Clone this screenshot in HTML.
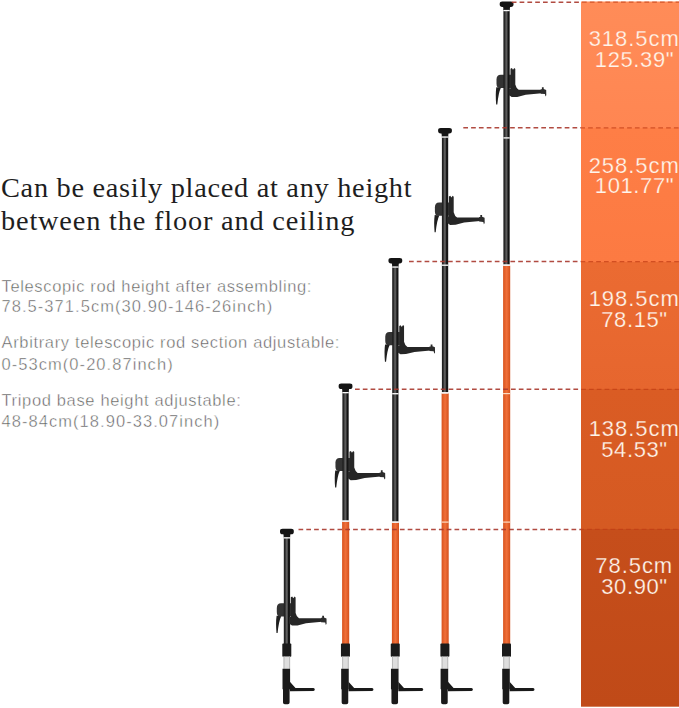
<!DOCTYPE html>
<html><head><meta charset="utf-8"><style>
html,body{margin:0;padding:0;background:#fff;width:679px;height:708px;overflow:hidden}
svg{position:absolute;left:0;top:0}
.h{font-family:"Liberation Serif",serif;font-size:26.5px;fill:#1e1e1e;letter-spacing:1.55px}
.ta{font-family:"Liberation Sans",sans-serif;font-size:16.5px;fill:#5c5c5c;letter-spacing:0.65px;stroke:#fff;stroke-width:0.45px}
.tn{font-family:"Liberation Sans",sans-serif;font-size:16.5px;fill:#5c5c5c;letter-spacing:1.05px;stroke:#fff;stroke-width:0.45px}
.lab{font-family:"Liberation Sans",sans-serif;font-size:22px;fill:#fff6ec;letter-spacing:0.6px;text-anchor:middle;stroke-width:0.25px}
</style></head><body>
<svg width="679" height="708" viewBox="0 0 679 708">
<defs><clipPath id="cb"><rect x="581" y="0" width="98" height="708"/></clipPath><linearGradient id="rg" x1="0" y1="0" x2="1" y2="0"><stop offset="0" stop-color="#1c1c1c"/><stop offset="0.2" stop-color="#2a2a2a"/><stop offset="0.45" stop-color="#646464"/><stop offset="0.6" stop-color="#4a4a4a"/><stop offset="0.75" stop-color="#121212"/><stop offset="1" stop-color="#1c1c1c"/></linearGradient><linearGradient id="og" x1="0" y1="0" x2="1" y2="0"><stop offset="0" stop-color="#d8531e"/><stop offset="0.5" stop-color="#f0703a"/><stop offset="1" stop-color="#d4501c"/></linearGradient><linearGradient id="g0" x1="0" y1="0" x2="0" y2="1"><stop offset="0" stop-color="#ff8c58"/><stop offset="1" stop-color="#ff8652"/></linearGradient><linearGradient id="g1" x1="0" y1="0" x2="0" y2="1"><stop offset="0" stop-color="#fe7e46"/><stop offset="1" stop-color="#fc7a42"/></linearGradient><linearGradient id="g2" x1="0" y1="0" x2="0" y2="1"><stop offset="0" stop-color="#eb6b32"/><stop offset="1" stop-color="#e6662e"/></linearGradient><linearGradient id="g3" x1="0" y1="0" x2="0" y2="1"><stop offset="0" stop-color="#da5c24"/><stop offset="1" stop-color="#d55a22"/></linearGradient><linearGradient id="g4" x1="0" y1="0" x2="0" y2="1"><stop offset="0" stop-color="#c64e1b"/><stop offset="1" stop-color="#c04a18"/></linearGradient></defs>
<rect x="581" y="1.5" width="98" height="126.5" fill="url(#g0)"/>
<rect x="581" y="128" width="98" height="134.0" fill="url(#g1)"/>
<rect x="581" y="262" width="98" height="127.0" fill="url(#g2)"/>
<rect x="581" y="389" width="98" height="140.0" fill="url(#g3)"/>
<rect x="581" y="529" width="98" height="177.7" fill="url(#g4)"/>
<path d="M276.80,608.00 Q276.80,603.30 281.00,603.30 L291.40,603.30 L291.40,616.50 L280.00,616.50 Q276.80,616.50 276.80,612.00 Z" fill="#333333"/>
<rect x="283.4" y="646.2" width="7.1" height="-1.2" fill="url(#og)"/>
<rect x="283.8" y="536.5" width="6.3" height="108.5" fill="url(#rg)"/>
<rect x="280.00" y="528.70" width="13.8" height="5.6" rx="2.6" ry="2.4" fill="#141414"/>
<path d="M283.30,533.50 L290.50,533.50 L290.00,537.20 L283.80,537.20 Z" fill="#161616"/>
<rect x="283.8" y="537.2" width="6.3" height="1.3" fill="#fafafa"/>
<path d="M290.80,617.00 L290.80,597.20 L292.20,596.50 L293.30,598.20 L294.60,596.40 L295.60,597.40 L295.60,613.00 Q296.60,617.00 299.00,618.30 L322.00,618.30 L322.00,621.80 L306.00,623.30 L297.50,625.40 L292.00,625.60 L289.00,623.50 L289.00,617.00 Z" fill="#262626"/>
<path d="M321.00,617.80 L322.20,617.80 L322.20,615.70 L324.00,615.70 L324.00,617.50 L326.50,618.50 L326.60,623.80 L325.80,625.00 L325.20,622.60 L321.00,622.30 Z" fill="#2c2c2c"/>
<path d="M276.60,615.80 L281.20,616.20 Q278.80,621.00 277.60,633.00 L276.50,633.00 Q275.60,623.00 276.60,615.80 Z" fill="#1e1e1e"/>
<rect x="282.30" y="643.6" width="9.0" height="13.1" rx="0.8" fill="#1b1b1b"/>
<rect x="283.50" y="656.6" width="6.6" height="12.2" fill="#dedede"/>
<rect x="283.50" y="656.6" width="1.0" height="12.2" fill="#b8b8b8"/>
<rect x="289.10" y="656.6" width="1.0" height="12.2" fill="#b8b8b8"/>
<path d="M282.50,668.7 L290.10,668.7 L290.10,689 L289.60,689.5 L289.60,702.5 Q289.60,704.3 287.80,704.3 L284.80,704.3 Q283.00,704.3 283.00,702.5 L283.00,689.5 L282.50,689 Z" fill="#1a1a1a"/>
<path d="M289.90,681.8 L295.50,688 L313.40,688 Q314.80,688.3 314.80,689.6 Q314.80,690.9 313.40,691.1 L289.90,691.3 Z" fill="#1a1a1a"/>
<path d="M335.45,462.60 Q335.45,457.90 339.65,457.90 L350.05,457.90 L350.05,471.10 L338.65,471.10 Q335.45,471.10 335.45,466.60 Z" fill="#333333"/>
<rect x="342.1" y="521.7" width="7.1" height="123.3" fill="url(#og)"/>
<rect x="342.4" y="391.3" width="6.3" height="129.2" fill="url(#rg)"/>
<rect x="342.4" y="520.5" width="6.3" height="1.4" fill="#f2f2f2"/>
<rect x="338.65" y="383.50" width="13.8" height="5.6" rx="2.6" ry="2.4" fill="#141414"/>
<path d="M341.95,388.30 L349.15,388.30 L348.65,392.00 L342.45,392.00 Z" fill="#161616"/>
<rect x="342.4" y="392.0" width="6.3" height="1.3" fill="#fafafa"/>
<path d="M349.45,471.60 L349.45,451.80 L350.85,451.10 L351.95,452.80 L353.25,451.00 L354.25,452.00 L354.25,467.60 Q355.25,471.60 357.65,472.90 L380.65,472.90 L380.65,476.40 L364.65,477.90 L356.15,480.00 L350.65,480.20 L347.65,478.10 L347.65,471.60 Z" fill="#262626"/>
<path d="M379.65,472.40 L380.85,472.40 L380.85,470.30 L382.65,470.30 L382.65,472.10 L385.15,473.10 L385.25,478.40 L384.45,479.60 L383.85,477.20 L379.65,476.90 Z" fill="#2c2c2c"/>
<path d="M335.25,470.40 L339.85,470.80 Q337.45,475.60 336.25,487.60 L335.15,487.60 Q334.25,477.60 335.25,470.40 Z" fill="#1e1e1e"/>
<rect x="340.95" y="643.6" width="9.0" height="13.1" rx="0.8" fill="#1b1b1b"/>
<rect x="342.15" y="656.6" width="6.6" height="12.2" fill="#dedede"/>
<rect x="342.15" y="656.6" width="1.0" height="12.2" fill="#b8b8b8"/>
<rect x="347.75" y="656.6" width="1.0" height="12.2" fill="#b8b8b8"/>
<path d="M341.15,668.7 L348.75,668.7 L348.75,689 L348.25,689.5 L348.25,702.5 Q348.25,704.3 346.45,704.3 L343.45,704.3 Q341.65,704.3 341.65,702.5 L341.65,689.5 L341.15,689 Z" fill="#1a1a1a"/>
<path d="M348.55,681.8 L354.15,688 L372.05,688 Q373.45,688.3 373.45,689.6 Q373.45,690.9 372.05,691.1 L348.55,691.3 Z" fill="#1a1a1a"/>
<path d="M385.25,336.70 Q385.25,332.00 389.45,332.00 L399.85,332.00 L399.85,345.20 L388.45,345.20 Q385.25,345.20 385.25,340.70 Z" fill="#333333"/>
<rect x="391.9" y="522.7" width="7.1" height="122.3" fill="url(#og)"/>
<rect x="392.2" y="265.7" width="6.3" height="255.8" fill="url(#rg)"/>
<rect x="392.2" y="393.0" width="6.3" height="1.4" fill="#f2f2f2"/>
<rect x="392.2" y="521.5" width="6.3" height="1.4" fill="#f2f2f2"/>
<rect x="388.45" y="257.90" width="13.8" height="5.6" rx="2.6" ry="2.4" fill="#141414"/>
<path d="M391.75,262.70 L398.95,262.70 L398.45,266.40 L392.25,266.40 Z" fill="#161616"/>
<rect x="392.2" y="266.4" width="6.3" height="1.3" fill="#fafafa"/>
<path d="M399.25,345.70 L399.25,325.90 L400.65,325.20 L401.75,326.90 L403.05,325.10 L404.05,326.10 L404.05,341.70 Q405.05,345.70 407.45,347.00 L430.45,347.00 L430.45,350.50 L414.45,352.00 L405.95,354.10 L400.45,354.30 L397.45,352.20 L397.45,345.70 Z" fill="#262626"/>
<path d="M429.45,346.50 L430.65,346.50 L430.65,344.40 L432.45,344.40 L432.45,346.20 L434.95,347.20 L435.05,352.50 L434.25,353.70 L433.65,351.30 L429.45,351.00 Z" fill="#2c2c2c"/>
<path d="M385.05,344.50 L389.65,344.90 Q387.25,349.70 386.05,361.70 L384.95,361.70 Q384.05,351.70 385.05,344.50 Z" fill="#1e1e1e"/>
<rect x="390.75" y="643.6" width="9.0" height="13.1" rx="0.8" fill="#1b1b1b"/>
<rect x="391.95" y="656.6" width="6.6" height="12.2" fill="#dedede"/>
<rect x="391.95" y="656.6" width="1.0" height="12.2" fill="#b8b8b8"/>
<rect x="397.55" y="656.6" width="1.0" height="12.2" fill="#b8b8b8"/>
<path d="M390.95,668.7 L398.55,668.7 L398.55,689 L398.05,689.5 L398.05,702.5 Q398.05,704.3 396.25,704.3 L393.25,704.3 Q391.45,704.3 391.45,702.5 L391.45,689.5 L390.95,689 Z" fill="#1a1a1a"/>
<path d="M398.35,681.8 L403.95,688 L421.85,688 Q423.25,688.3 423.25,689.6 Q423.25,690.9 421.85,691.1 L398.35,691.3 Z" fill="#1a1a1a"/>
<path d="M434.90,207.30 Q434.90,202.60 439.10,202.60 L449.50,202.60 L449.50,215.80 L438.10,215.80 Q434.90,215.80 434.90,211.30 Z" fill="#333333"/>
<rect x="441.6" y="393.4" width="7.1" height="251.6" fill="url(#og)"/>
<rect x="441.9" y="135.7" width="6.3" height="256.5" fill="url(#rg)"/>
<rect x="441.9" y="264.5" width="6.3" height="1.4" fill="#f2f2f2"/>
<rect x="441.9" y="392.2" width="6.3" height="1.4" fill="#f2f2f2"/>
<rect x="441.6" y="521.5" width="7.1" height="1.2" fill="#fbdcc4"/>
<rect x="438.10" y="127.90" width="13.8" height="5.6" rx="2.6" ry="2.4" fill="#141414"/>
<path d="M441.40,132.70 L448.60,132.70 L448.10,136.40 L441.90,136.40 Z" fill="#161616"/>
<rect x="441.9" y="136.4" width="6.3" height="1.3" fill="#fafafa"/>
<path d="M448.90,216.30 L448.90,196.50 L450.30,195.80 L451.40,197.50 L452.70,195.70 L453.70,196.70 L453.70,212.30 Q454.70,216.30 457.10,217.60 L480.10,217.60 L480.10,221.10 L464.10,222.60 L455.60,224.70 L450.10,224.90 L447.10,222.80 L447.10,216.30 Z" fill="#262626"/>
<path d="M479.10,217.10 L480.30,217.10 L480.30,215.00 L482.10,215.00 L482.10,216.80 L484.60,217.80 L484.70,223.10 L483.90,224.30 L483.30,221.90 L479.10,221.60 Z" fill="#2c2c2c"/>
<path d="M434.70,215.10 L439.30,215.50 Q436.90,220.30 435.70,232.30 L434.60,232.30 Q433.70,222.30 434.70,215.10 Z" fill="#1e1e1e"/>
<rect x="440.40" y="643.6" width="9.0" height="13.1" rx="0.8" fill="#1b1b1b"/>
<rect x="441.60" y="656.6" width="6.6" height="12.2" fill="#dedede"/>
<rect x="441.60" y="656.6" width="1.0" height="12.2" fill="#b8b8b8"/>
<rect x="447.20" y="656.6" width="1.0" height="12.2" fill="#b8b8b8"/>
<path d="M440.60,668.7 L448.20,668.7 L448.20,689 L447.70,689.5 L447.70,702.5 Q447.70,704.3 445.90,704.3 L442.90,704.3 Q441.10,704.3 441.10,702.5 L441.10,689.5 L440.60,689 Z" fill="#1a1a1a"/>
<path d="M448.00,681.8 L453.60,688 L471.50,688 Q472.90,688.3 472.90,689.6 Q472.90,690.9 471.50,691.1 L448.00,691.3 Z" fill="#1a1a1a"/>
<path d="M496.50,79.50 Q496.50,74.80 500.70,74.80 L511.10,74.80 L511.10,88.00 L499.70,88.00 Q496.50,88.00 496.50,83.50 Z" fill="#333333"/>
<rect x="503.1" y="265.7" width="7.1" height="379.3" fill="url(#og)"/>
<rect x="503.4" y="9.2" width="6.3" height="255.3" fill="url(#rg)"/>
<rect x="503.4" y="137.2" width="6.3" height="1.4" fill="#f2f2f2"/>
<rect x="503.4" y="264.5" width="6.3" height="1.4" fill="#f2f2f2"/>
<rect x="503.1" y="393.0" width="7.1" height="1.2" fill="#fbdcc4"/>
<rect x="503.1" y="521.5" width="7.1" height="1.2" fill="#fbdcc4"/>
<rect x="499.70" y="1.40" width="13.8" height="5.6" rx="2.6" ry="2.4" fill="#141414"/>
<path d="M503.00,6.20 L510.20,6.20 L509.70,9.90 L503.50,9.90 Z" fill="#161616"/>
<rect x="503.4" y="9.9" width="6.3" height="1.3" fill="#fafafa"/>
<path d="M510.50,88.50 L510.50,68.70 L511.90,68.00 L513.00,69.70 L514.30,67.90 L515.30,68.90 L515.30,84.50 Q516.30,88.50 518.70,89.80 L541.70,89.80 L541.70,93.30 L525.70,94.80 L517.20,96.90 L511.70,97.10 L508.70,95.00 L508.70,88.50 Z" fill="#262626"/>
<path d="M540.70,89.30 L541.90,89.30 L541.90,87.20 L543.70,87.20 L543.70,89.00 L546.20,90.00 L546.30,95.30 L545.50,96.50 L544.90,94.10 L540.70,93.80 Z" fill="#2c2c2c"/>
<path d="M496.30,87.30 L500.90,87.70 Q498.50,92.50 497.30,104.50 L496.20,104.50 Q495.30,94.50 496.30,87.30 Z" fill="#1e1e1e"/>
<rect x="502.00" y="643.6" width="9.0" height="13.1" rx="0.8" fill="#1b1b1b"/>
<rect x="503.20" y="656.6" width="6.6" height="12.2" fill="#dedede"/>
<rect x="503.20" y="656.6" width="1.0" height="12.2" fill="#b8b8b8"/>
<rect x="508.80" y="656.6" width="1.0" height="12.2" fill="#b8b8b8"/>
<path d="M502.20,668.7 L509.80,668.7 L509.80,689 L509.30,689.5 L509.30,702.5 Q509.30,704.3 507.50,704.3 L504.50,704.3 Q502.70,704.3 502.70,702.5 L502.70,689.5 L502.20,689 Z" fill="#1a1a1a"/>
<path d="M509.60,681.8 L515.20,688 L533.10,688 Q534.50,688.3 534.50,689.6 Q534.50,690.9 533.10,691.1 L509.60,691.3 Z" fill="#1a1a1a"/>
<line x1="511.8" y1="2.2" x2="581" y2="2.2" stroke="#a8372c" stroke-width="1.5" stroke-dasharray="4.7 3.1" stroke-opacity="0.9"/>
<line x1="511.8" y1="2.2" x2="679" y2="2.2" stroke="#c03c14" stroke-width="1.3" stroke-dasharray="4.7 3.1" stroke-opacity="0.7" clip-path="url(#cb)"/>
<line x1="463.3" y1="127.8" x2="581" y2="127.8" stroke="#a8372c" stroke-width="1.5" stroke-dasharray="4.7 3.1" stroke-opacity="0.9"/>
<line x1="463.3" y1="127.8" x2="679" y2="127.8" stroke="#c03c14" stroke-width="1.3" stroke-dasharray="4.7 3.1" stroke-opacity="0.7" clip-path="url(#cb)"/>
<line x1="409.0" y1="261.6" x2="581" y2="261.6" stroke="#a8372c" stroke-width="1.5" stroke-dasharray="4.7 3.1" stroke-opacity="0.9"/>
<line x1="409.0" y1="261.6" x2="679" y2="261.6" stroke="#c03c14" stroke-width="1.3" stroke-dasharray="4.7 3.1" stroke-opacity="0.7" clip-path="url(#cb)"/>
<line x1="355.0" y1="389.3" x2="581" y2="389.3" stroke="#a8372c" stroke-width="1.5" stroke-dasharray="4.7 3.1" stroke-opacity="0.9"/>
<line x1="355.0" y1="389.3" x2="679" y2="389.3" stroke="#c03c14" stroke-width="1.3" stroke-dasharray="4.7 3.1" stroke-opacity="0.7" clip-path="url(#cb)"/>
<line x1="298.5" y1="529.4" x2="581" y2="529.4" stroke="#a8372c" stroke-width="1.5" stroke-dasharray="4.7 3.1" stroke-opacity="0.9"/>
<line x1="298.5" y1="529.4" x2="679" y2="529.4" stroke="#c03c14" stroke-width="1.3" stroke-dasharray="4.7 3.1" stroke-opacity="0.7" clip-path="url(#cb)"/>
<text class="lab" stroke="#fe8650" x="634.2" y="46.0" style="letter-spacing:0.95px">318.5cm</text><text class="lab" stroke="#fe8650" x="634.5" y="67.4">125.39"</text>
<text class="lab" stroke="#fa7a42" x="634.2" y="173.4" style="letter-spacing:0.95px">258.5cm</text><text class="lab" stroke="#fa7a42" x="634.5" y="193.2">101.77"</text>
<text class="lab" stroke="#e9692f" x="634.2" y="306.1" style="letter-spacing:0.95px">198.5cm</text><text class="lab" stroke="#e9692f" x="634.5" y="327.4">78.15"</text>
<text class="lab" stroke="#d85b23" x="634.2" y="436.1" style="letter-spacing:0.95px">138.5cm</text><text class="lab" stroke="#d85b23" x="634.5" y="457.4">54.53"</text>
<text class="lab" stroke="#c44c1a" x="634.2" y="572.7" style="letter-spacing:0.95px">78.5cm</text><text class="lab" stroke="#c44c1a" x="634.5" y="593.9">30.90"</text>
<text class="h" transform="translate(1,197.1) scale(1.07,1)" x="0" y="0" style="letter-spacing:0.66px">Can be easily placed at any height</text>
<text class="h" transform="translate(1,229.5) scale(1.07,1)" x="0" y="0" style="letter-spacing:0.76px">between the floor and ceiling</text>
<text class="ta" x="1.5" y="291.5">Telescopic rod height after assembling:</text>
<text class="tn" x="1.5" y="311.8">78.5-371.5cm(30.90-146-26inch)</text>
<text class="ta" x="1.5" y="347.7">Arbitrary telescopic rod section adjustable:</text>
<text class="tn" x="1.5" y="369.6">0-53cm(0-20.87inch)</text>
<text class="ta" x="1.5" y="405.5">Tripod base height adjustable:</text>
<text class="tn" x="1.5" y="426.9">48-84cm(18.90-33.07inch)</text>
</svg>
</body></html>
